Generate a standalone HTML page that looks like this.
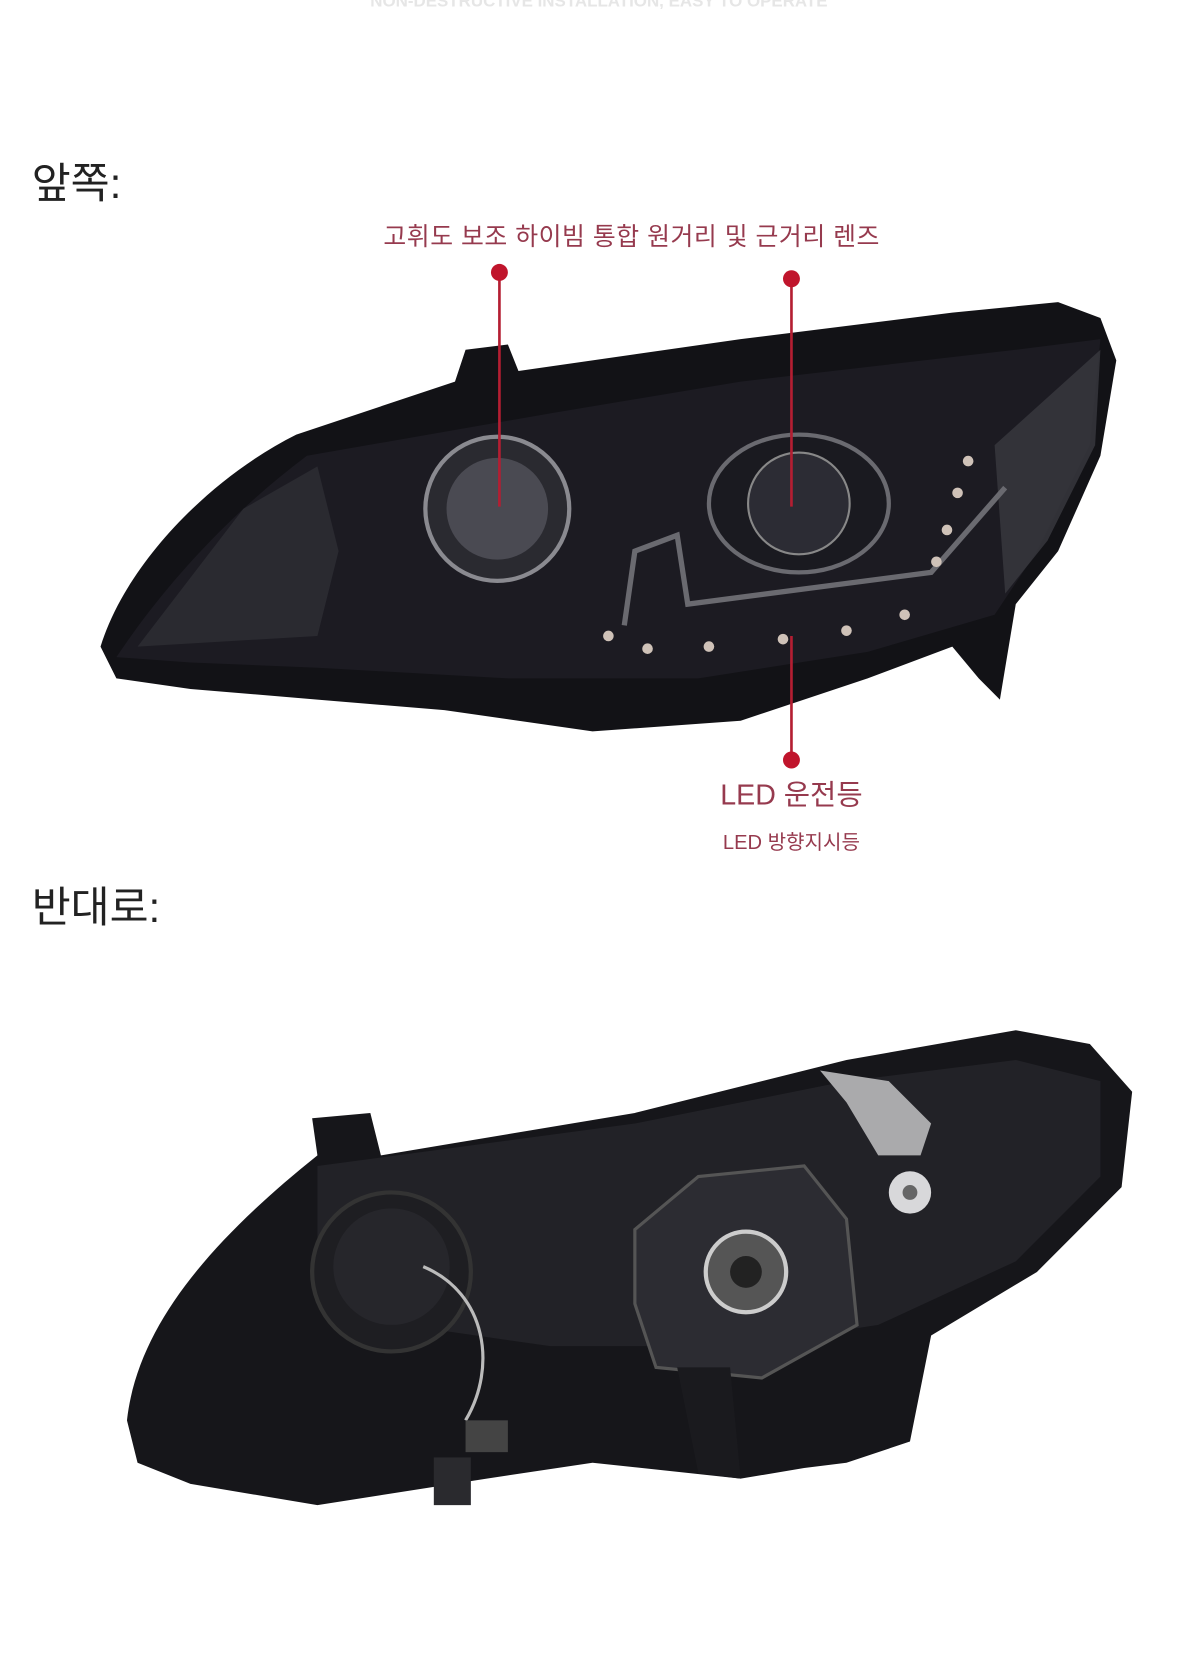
<!DOCTYPE html>
<html><head><meta charset="utf-8">
<style>
html,body{margin:0;padding:0;background:#fff;}
svg{display:block;}
text{font-family:"Liberation Sans","Noto Sans CJK KR",sans-serif;}
</style></head>
<body>
<svg width="1202" height="1662" viewBox="0 0 1136 1568" preserveAspectRatio="none" xmlns="http://www.w3.org/2000/svg">
<rect width="1136" height="1568" fill="#fff"/>
<text x="566" y="6" text-anchor="middle" font-size="16" font-weight="bold" fill="#e6e6e6">NON-DESTRUCTIVE INSTALLATION, EASY TO OPERATE</text>
<text x="30" y="187" font-size="40" fill="#222">앞쪽:</text>
<text x="597" y="231" text-anchor="middle" font-size="23.5" letter-spacing="0.5" fill="#963a4e">고휘도 보조 하이빔 통합 원거리 및 근거리 렌즈</text>

<!-- Front headlight -->
<path d="M95,610 C120,530 200,450 280,410 L430,360 L440,330 L480,325 L490,350 L700,320 L900,295 L1000,285 L1040,300 L1055,340 L1040,430 L1000,520 L960,570 L945,660 L925,640 L900,610 L820,640 L700,680 L560,690 L420,670 L300,660 L180,650 L110,640 Z" fill="#121216"/>
<path d="M110,620 C150,560 210,490 290,430 L520,390 L700,360 L960,330 L1040,320 L1030,420 L980,520 L940,580 L820,615 L660,640 L480,640 L300,630 L180,625 Z" fill="#1c1b22"/>
<path d="M130,610 L230,480 L300,440 L320,520 L300,600 Z" fill="#2a2a30"/>
<path d="M940,420 L1040,330 L1035,420 L990,510 L950,560 Z" fill="#3a3a40" opacity="0.8"/>
<circle cx="470" cy="480" r="68" fill="#2a2a30" stroke="#8a8a90" stroke-width="4"/>
<circle cx="470" cy="480" r="48" fill="#4a4a52"/>
<ellipse cx="755" cy="475" rx="85" ry="65" fill="#1a1a20" stroke="#6a6a70" stroke-width="4"/>
<circle cx="755" cy="475" r="48" fill="#2c2c34" stroke="#888" stroke-width="2"/>
<path d="M590,590 L600,520 L640,505 L650,570 L880,540 L950,460" fill="none" stroke="#6a6a70" stroke-width="5"/>
<g fill="#cfc2b8">
<circle cx="575" cy="600" r="5"/><circle cx="612" cy="612" r="5"/><circle cx="670" cy="610" r="5"/><circle cx="740" cy="603" r="5"/><circle cx="800" cy="595" r="5"/><circle cx="855" cy="580" r="5"/><circle cx="885" cy="530" r="5"/><circle cx="895" cy="500" r="5"/><circle cx="905" cy="465" r="5"/><circle cx="915" cy="435" r="5"/>
</g>

<!-- callouts -->
<line x1="472" y1="257" x2="472" y2="478" stroke="#b41e32" stroke-width="2.5"/>
<circle cx="472" cy="257" r="8" fill="#c0152c"/>
<line x1="748" y1="263" x2="748" y2="478" stroke="#b41e32" stroke-width="2.5"/>
<circle cx="748" cy="263" r="8" fill="#c0152c"/>
<line x1="748" y1="600" x2="748" y2="717" stroke="#b41e32" stroke-width="2.5"/>
<circle cx="748" cy="717" r="8" fill="#c0152c"/>
<text x="748" y="759" text-anchor="middle" font-size="27" fill="#963a4e">LED 운전등</text>
<text x="748" y="801" text-anchor="middle" font-size="19" fill="#963a4e">LED 방향지시등</text>

<text x="30" y="870" font-size="40" fill="#222">반대로:</text>

<!-- Back headlight -->
<path d="M120,1340 C130,1250 200,1170 300,1090 L295,1055 L350,1050 L360,1090 L600,1050 L800,1000 L960,972 L1030,985 L1070,1030 L1060,1120 L980,1200 L880,1260 L860,1360 L800,1380 L760,1385 L700,1395 L560,1380 L460,1395 L300,1420 L180,1400 L130,1380 Z" fill="#16161a"/>
<path d="M300,1100 L600,1060 L800,1020 L960,1000 L1040,1020 L1040,1110 L960,1190 L830,1250 L700,1270 L520,1270 L380,1250 L300,1200 Z" fill="#222227"/>
<circle cx="370" cy="1200" r="75" fill="#1e1e22" stroke="#333" stroke-width="4"/>
<circle cx="370" cy="1195" r="55" fill="#26262b"/>
<path d="M400,1195 C460,1220 470,1290 440,1340" fill="none" stroke="#bbb" stroke-width="3"/>
<rect x="440" y="1340" width="40" height="30" fill="#444"/>
<rect x="410" y="1375" width="35" height="45" fill="#2a2a2e"/>
<path d="M600,1160 L660,1110 L760,1100 L800,1150 L810,1250 L720,1300 L620,1290 L600,1230 Z" fill="#2c2c32" stroke="#555" stroke-width="3"/>
<circle cx="705" cy="1200" r="38" fill="#555" stroke="#ccc" stroke-width="4"/>
<circle cx="705" cy="1200" r="15" fill="#222"/>
<path d="M775,1010 L840,1020 L880,1060 L870,1090 L830,1090 L800,1040 Z" fill="#aaaaac"/>
<circle cx="860" cy="1125" r="20" fill="#d8d8da"/>
<circle cx="860" cy="1125" r="7" fill="#666"/>
<path d="M640,1290 L660,1390 L700,1395 L690,1290 Z" fill="#1a1a1e"/>
</svg>
</body></html>
